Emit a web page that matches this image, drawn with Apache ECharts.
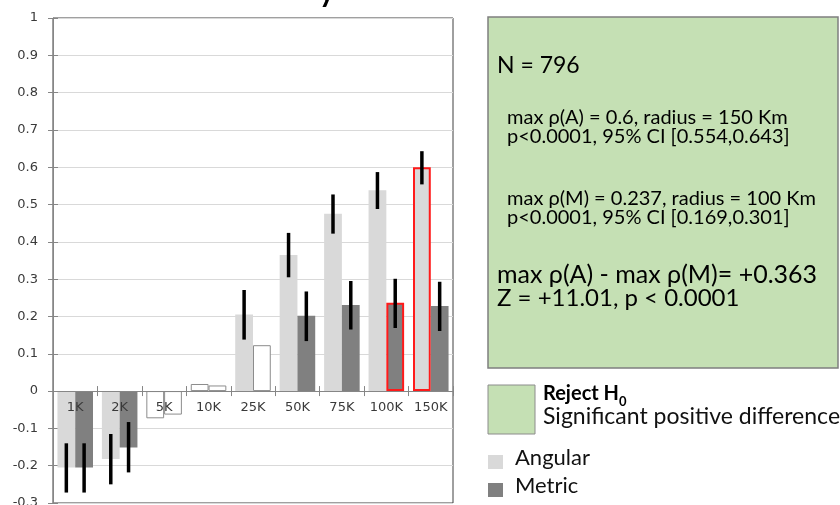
<!DOCTYPE html>
<html>
<head>
<meta charset="utf-8">
<script src="https://cdn.jsdelivr.net/npm/echarts@6/dist/echarts.min.js"></script>
<style>
html,body{margin:0;padding:0;background:#fff;}
#chart{width:840px;height:505px;}
</style>
</head>
<body>
<div id="chart"></div>
<script>
const categories = ['1K','2K','5K','10K','25K','50K','75K','100K','150K'];
const angular = [-0.205,-0.182,-0.073,0.019,0.205,0.365,0.475,0.538,0.600];
const metric  = [-0.205,-0.151,-0.063,0.015,0.123,0.202,0.231,0.237,0.228];
const angularLow  = [-0.272,-0.250,null,null,0.138,0.305,0.422,0.488,0.554];
const angularHigh = [-0.140,-0.115,null,null,0.271,0.424,0.527,0.587,0.643];
const metricLow   = [-0.272,-0.218,null,null,null,0.134,0.165,0.169,0.161];
const metricHigh  = [-0.140,-0.083,null,null,null,0.267,0.295,0.301,0.293];
const angularSignificant = [true,true,false,false,true,true,true,true,true];
const metricSignificant  = [true,true,false,false,false,true,true,true,true];
const angularMax = 8;
const metricMax = 7;
const yTicks = ['-0.3','-0.2','-0.1','0','0.1','0.2','0.3','0.4','0.5','0.6','0.7','0.8','0.9','1'];
const yMin = -0.3, yMax = 1;

const COL_A = '#d9d9d9', COL_M = '#808080';
const boxFont = 'Lato, "Open Sans", sans-serif';
const W = 840, H = 505, GRID = {left:53, right:387, top:18, bottom:2};
// distance from the grid bottom to the value 0 on the y axis
const zeroOffset = -(H - GRID.top - GRID.bottom) * (0 - yMin) / (yMax - yMin);

function barData(vals, sig, maxIdx, color){
  return vals.map((v,i)=>{
    if (i === maxIdx) return {value:v, itemStyle:{color:color, borderColor:'#ff1a1a', borderWidth:2}};
    if (!sig[i]) return {value:v, itemStyle:{color:'#ffffff', borderColor:'#8c8c8c', borderWidth:1}};
    return {value:v};
  });
}
function errData(lo, hi){
  const out=[];
  lo.forEach((l,i)=>{ if(l!==null && hi[i]!==null) out.push([i,l,hi[i]]); });
  return out;
}
function errSeries(lo, hi, side){
  return {
    type:'custom', name:'err'+side, z:10, silent:true,
    data: errData(lo,hi), encode:{x:0,y:[1,2]},
    renderItem:function(params, api){
      const i = api.value(0);
      const catW = api.size([1,0])[0];
      const off = side*0.2*catW;
      const p1 = api.coord([i, api.value(1)]);
      const p2 = api.coord([i, api.value(2)]);
      return {type:'line', shape:{x1:p1[0]+off,y1:p1[1],x2:p2[0]+off,y2:p2[1]},
              style:{stroke:'#000', lineWidth:3.5, lineCap:'butt'}};
    }
  };
}

const chart = echarts.init(document.getElementById('chart'), null, {renderer:'canvas'});
chart.setOption({
  animation:false,
  backgroundColor:'#ffffff',
  grid:Object.assign({containLabel:false, outerBoundsMode:'none',
        show:true, borderColor:'#404040', borderWidth:1, backgroundColor:'transparent'}, GRID),
  legend:{
    data:['Angular','Metric'], orient:'vertical', left:488, top:447, padding:0, height:120,
    itemWidth:15, itemHeight:14, itemGap:-2, icon:'rect',
    formatter:'{t|{name}}',
    textStyle:{fontFamily:boxFont, fontSize:22, color:'#111',
      rich:{t:{fontFamily:boxFont, fontSize:22, color:'#111', lineHeight:20, padding:[0,0,8,7]}}}
  },
  xAxis:[{
    type:'category', data:categories, position:'bottom', offset:zeroOffset, z:5,
    axisLine:{onZero:false, lineStyle:{color:'#868686'}},
    axisTick:{show:true, length:5, lineStyle:{color:'#868686'}},
    axisLabel:{fontFamily:'DejaVu Sans', fontSize:13, color:'#3a3a3a', margin:10},
    splitLine:{show:false}
  },{
    type:'category', data:categories, position:'bottom', offset:zeroOffset, z:5,
    axisLine:{show:false, onZero:false},
    axisTick:{show:true, inside:true, length:5, lineStyle:{color:'#868686'}},
    axisLabel:{show:false}, splitLine:{show:false}
  }],
  yAxis:[{
    type:'value', min:yMin, max:yMax, interval:0.1,
    axisLine:{show:true, lineStyle:{color:'#868686'}},
    axisTick:{show:true, length:5, lineStyle:{color:'#868686'}},
    axisLabel:{fontFamily:'DejaVu Sans', fontSize:13, color:'#3a3a3a', margin:15,
      formatter:function(v){ const k=Math.round((v-yMin)*10); return yTicks[k]; }},
    splitLine:{show:true, lineStyle:{color:'#d9d9d9'}}
  },{
    type:'value', min:yMin, max:yMax, interval:0.1, position:'left',
    axisLine:{show:false}, axisTick:{show:true, inside:true, length:5, lineStyle:{color:'#868686'}},
    axisLabel:{show:false}, splitLine:{show:false}
  }],
  series:[
    {name:'Angular', type:'bar', data:barData(angular, angularSignificant, angularMax, COL_A),
     itemStyle:{color:COL_A}, barGap:'0%', barCategoryGap:'20%', z:2},
    {name:'Metric', type:'bar', data:barData(metric, metricSignificant, metricMax, COL_M),
     itemStyle:{color:COL_M}, barGap:'0%', barCategoryGap:'20%', z:2},
    errSeries(angularLow, angularHigh, -1),
    errSeries(metricLow, metricHigh, 1)
  ],
  graphic:[
    {type:'text', x:327, y:7, z:50, style:{text:'y', font:'bold 30px '+boxFont, fill:'#000', textAlign:'center', textVerticalAlign:'bottom'}},
    {type:'rect', shape:{x:488, y:17, width:350, height:351}, style:{fill:'#c5e0b4', stroke:'#7f7f7f', lineWidth:1.5}, z:1},
    {type:'text', x:497, y:66, z:5, style:{text:'N = 796', font:'23px '+boxFont, fill:'#000', textVerticalAlign:'middle'}},
    {type:'text', x:507, y:118, z:5, style:{text:'max \u03c1(A) = 0.6, radius = 150 Km', font:'20px '+boxFont, fill:'#000', textVerticalAlign:'middle'}},
    {type:'text', x:507, y:137, z:5, style:{text:'p<0.0001, 95% CI [0.554,0.643]', font:'20px '+boxFont, fill:'#000', textVerticalAlign:'middle'}},
    {type:'text', x:507, y:199, z:5, style:{text:'max \u03c1(M) = 0.237, radius = 100 Km', font:'20px '+boxFont, fill:'#000', textVerticalAlign:'middle'}},
    {type:'text', x:507, y:218, z:5, style:{text:'p<0.0001, 95% CI [0.169,0.301]', font:'20px '+boxFont, fill:'#000', textVerticalAlign:'middle'}},
    {type:'text', x:497, y:275, z:5, style:{text:'max \u03c1(A) - max \u03c1(M)= +0.363', font:'25px '+boxFont, fill:'#000', textVerticalAlign:'middle'}},
    {type:'text', x:497, y:298, z:5, style:{text:'Z = +11.01, p < 0.0001', font:'24px '+boxFont, fill:'#000', textVerticalAlign:'middle'}},
    {type:'rect', shape:{x:488, y:385, width:47, height:49}, style:{fill:'#c5e0b4', stroke:'#8c8c8c', lineWidth:1}, z:1},
    {type:'text', x:543, y:394, z:5, style:{text:'Reject H', font:'bold 20px '+boxFont, fill:'#000', textVerticalAlign:'middle'}},
    {type:'text', x:619, y:402, z:5, style:{text:'0', font:'bold 13px '+boxFont, fill:'#000', textVerticalAlign:'middle'}},
    {type:'text', x:543, y:417, z:5, style:{text:'Significant positive difference', font:'23px '+boxFont, fill:'#111', textVerticalAlign:'middle'}}
  ]
});
</script>
</body>
</html>
